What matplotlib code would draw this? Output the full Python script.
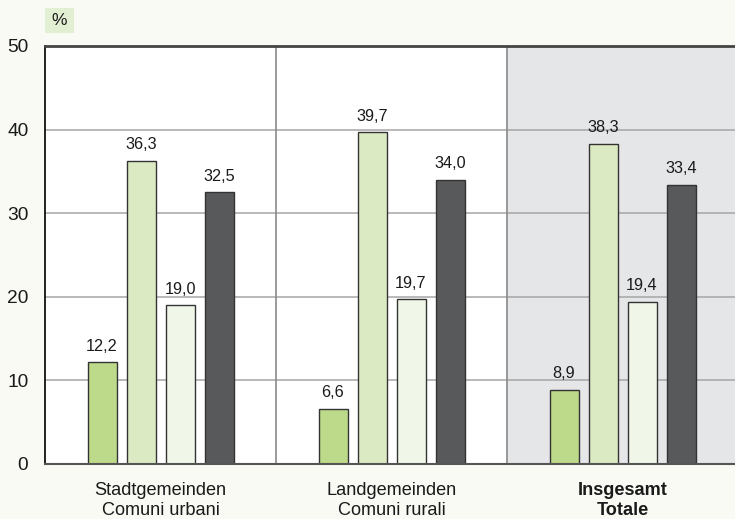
import matplotlib
matplotlib.use("Agg")
import matplotlib.pyplot as plt
from matplotlib.patches import Rectangle

plt.rcParams['font.family'] = ['Liberation Sans', 'DejaVu Sans']

categories = ["Stadtgemeinden\nComuni urbani", "Landgemeinden\nComuni rurali", "Insgesamt\nTotale"]
series1 = [12.2, 6.6, 8.9]
series2 = [36.3, 39.7, 38.3]
series3 = [19.0, 19.7, 19.4]
series4 = [32.5, 34.0, 33.4]
yticks = [0, 10, 20, 30, 40, 50]

colors = ["#bdd98a", "#dbeac3", "#f1f7e8", "#58595b"]
bg = "#f8faf3"

fig = plt.figure(figsize=(7.35, 5.19), dpi=100, facecolor=bg)
ax = fig.add_axes([45/735, 1-464/519, 1-45/735, (464-46)/519])
ax.set_facecolor("white")

xmax = 2.5 - 3/231
ax.set_xlim(-0.5, xmax)
ax.set_ylim(0, 50)

ax.axvspan(1.5, xmax, color="#e5e6e8", zorder=0)
for y in [10, 20, 30, 40]:
    ax.axhline(y, color="#a6a6a6", lw=1.1, zorder=1)
for x in [0.5, 1.5]:
    ax.axvline(x, color="#8a8a8a", lw=1.2, zorder=1)

width = 29/231
offsets = [-58.5/231, -19.5/231, 19.5/231, 58.5/231]
all_series = [series1, series2, series3, series4]
for s, off, c in zip(all_series, offsets, colors):
    xs = [i + off for i in range(len(categories))]
    bars = ax.bar(xs, s, width=width, color=c, edgecolor="#333333", linewidth=1.0, zorder=3)
    for b, v in zip(bars, s):
        ax.annotate(f"{v:.1f}".replace(".", ","), (b.get_x() + b.get_width()/2, v),
                    xytext=(0, 6), textcoords="offset points", ha="center", va="bottom",
                    fontsize=11.7, color="#1a1a1a", zorder=4)

for sp in ["right"]:
    ax.spines[sp].set_visible(False)
ax.spines["left"].set_color("#111111")
ax.spines["left"].set_linewidth(1.3)
ax.spines["top"].set_color("#444444")
ax.spines["top"].set_linewidth(2.0)
ax.spines["bottom"].set_color("#555555")
ax.spines["bottom"].set_linewidth(1.5)
for sp in ax.spines.values():
    sp.set_zorder(5)

ax.set_yticks(yticks)
ax.set_yticklabels([str(t) for t in yticks], fontsize=13.8, color="#1a1a1a")
ax.tick_params(axis="y", length=0, pad=12)
ax.set_xticks(range(len(categories)))
ax.set_xticklabels(categories, fontsize=13.1, color="#1a1a1a", linespacing=1.2)
ax.tick_params(axis="x", length=0, pad=13)
ax.get_xticklabels()[2].set_fontweight("bold")

fig.patches.append(Rectangle((45/735, 1-33/519), 29/735, 25/519, transform=fig.transFigure,
                             facecolor="#e3efd3", edgecolor="none"))
fig.text(59.5/735, 1-20.5/519, "%", ha="center", va="center", fontsize=12.5, color="#1a1a1a")

fig.savefig("out.png", dpi=100, facecolor=bg)
